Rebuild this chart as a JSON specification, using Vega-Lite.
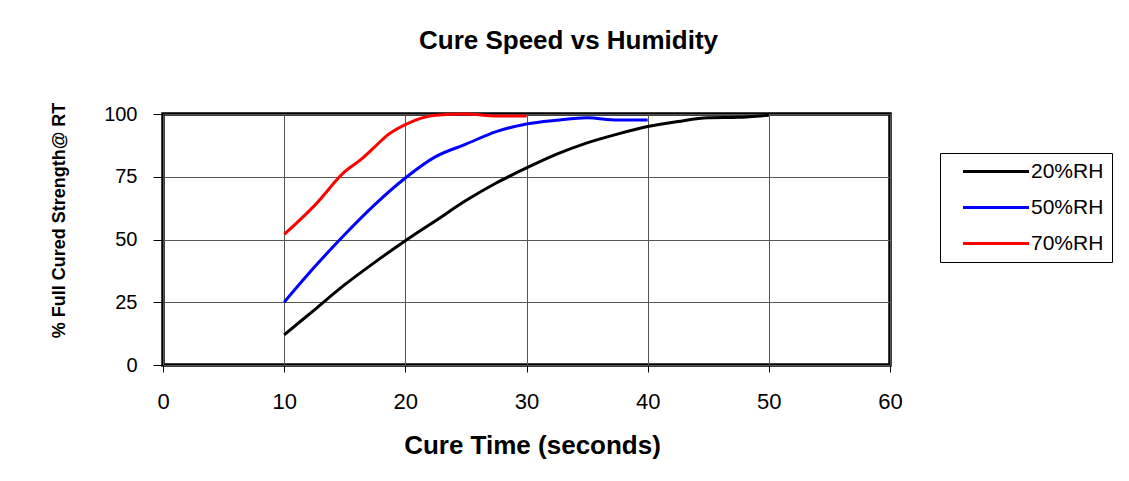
{
  "$schema": "https://vega.github.io/schema/vega-lite/v6.json",
  "width": 727,
  "height": 251,
  "autosize": {"type": "none"},
  "padding": {"left": 163, "top": 114, "right": 239, "bottom": 116},
  "background": "white",
  "title": {
    "text": "Cure Speed vs Humidity",
    "fontSize": 26,
    "fontWeight": "bold",
    "font": "Liberation Sans",
    "color": "black",
    "anchor": "middle",
    "offset": 48,
    "dx": 42
  },
  "data": {
    "values": [
      {"t": 10, "v": 12, "s": "20%RH"},
      {"t": 12.5, "v": 22, "s": "20%RH"},
      {"t": 15, "v": 32, "s": "20%RH"},
      {"t": 17.5, "v": 41, "s": "20%RH"},
      {"t": 20, "v": 49.5, "s": "20%RH"},
      {"t": 22.5, "v": 57.5, "s": "20%RH"},
      {"t": 25, "v": 65.5, "s": "20%RH"},
      {"t": 27.5, "v": 72.5, "s": "20%RH"},
      {"t": 30, "v": 78.5, "s": "20%RH"},
      {"t": 32.5, "v": 84, "s": "20%RH"},
      {"t": 35, "v": 88.5, "s": "20%RH"},
      {"t": 37.5, "v": 92, "s": "20%RH"},
      {"t": 40, "v": 95, "s": "20%RH"},
      {"t": 42.5, "v": 97, "s": "20%RH"},
      {"t": 45, "v": 98.5, "s": "20%RH"},
      {"t": 47.5, "v": 98.7, "s": "20%RH"},
      {"t": 50, "v": 99.5, "s": "20%RH"},
      {"t": 10, "v": 25, "s": "50%RH"},
      {"t": 12.5, "v": 39, "s": "50%RH"},
      {"t": 15, "v": 52, "s": "50%RH"},
      {"t": 17.5, "v": 64, "s": "50%RH"},
      {"t": 20, "v": 74.5, "s": "50%RH"},
      {"t": 22.5, "v": 83, "s": "50%RH"},
      {"t": 25, "v": 88, "s": "50%RH"},
      {"t": 27.5, "v": 93, "s": "50%RH"},
      {"t": 30, "v": 96, "s": "50%RH"},
      {"t": 32.5, "v": 97.5, "s": "50%RH"},
      {"t": 35, "v": 98.5, "s": "50%RH"},
      {"t": 37.5, "v": 97.6, "s": "50%RH"},
      {"t": 40, "v": 97.6, "s": "50%RH"},
      {"t": 10, "v": 52, "s": "70%RH"},
      {"t": 12.5, "v": 63.5, "s": "70%RH"},
      {"t": 15, "v": 77, "s": "70%RH"},
      {"t": 16.5, "v": 82.5, "s": "70%RH"},
      {"t": 17.5, "v": 87, "s": "70%RH"},
      {"t": 18.5, "v": 91.5, "s": "70%RH"},
      {"t": 20, "v": 95.8, "s": "70%RH"},
      {"t": 22.5, "v": 99.5, "s": "70%RH"},
      {"t": 25, "v": 100, "s": "70%RH"},
      {"t": 27.5, "v": 99.2, "s": "70%RH"},
      {"t": 30, "v": 99.2, "s": "70%RH"}
    ]
  },
  "mark": {"type": "line", "strokeWidth": 3, "interpolate": "monotone", "clip": false},
  "encoding": {
    "x": {
      "field": "t",
      "type": "quantitative",
      "scale": {"domain": [0, 60], "nice": false},
      "axis": {
        "title": "Cure Time (seconds)",
        "values": [0, 10, 20, 30, 40, 50, 60],
        "tickSize": 7,
        "labelPadding": 36,
        "labelBaseline": "alphabetic",
        "labelFlush": false,
        "labelFontSize": 22,
        "titleFontSize": 26,
        "titleX": 369,
        "titleY": 88,
        "titleBaseline": "alphabetic",
        "titleAlign": "center"
      }
    },
    "y": {
      "field": "v",
      "type": "quantitative",
      "scale": {"domain": [0, 100], "nice": false},
      "axis": {
        "title": "% Full Cured Strength@ RT",
        "values": [0, 25, 50, 75, 100],
        "tickSize": 10,
        "labelPadding": 16,
        "labelFlush": false,
        "labelFontSize": 20,
        "titleFontSize": 18,
        "titleX": -99,
        "titleY": 106,
        "titleAngle": 270,
        "titleBaseline": "alphabetic",
        "titleAlign": "center"
      }
    },
    "color": {
      "field": "s",
      "type": "nominal",
      "scale": {"domain": ["20%RH", "50%RH", "70%RH"], "range": ["#000000", "#0000FF", "#FF0000"]},
      "legend": {
        "title": null,
        "orient": "none",
        "legendX": 777,
        "legendY": 39,
        "strokeColor": "black",
        "fillColor": "white",
        "padding": 8,
        "symbolType": "M0.82,0H12.82",
        "symbolSize": 121,
        "symbolStrokeWidth": 3,
        "labelFontSize": 21,
        "labelOffset": 62,
        "rowPadding": 14
      }
    }
  },
  "config": {
    "font": "Liberation Sans",
    "view": {"stroke": "black", "strokeWidth": 3.5},
    "axis": {
      "domain": false,
      "grid": true,
      "gridColor": "#555555",
      "gridWidth": 1,
      "gridOpacity": 1,
      "tickColor": "black",
      "tickWidth": 1,
      "labelColor": "black",
      "labelFont": "Liberation Sans",
      "titleColor": "black",
      "titleFont": "Liberation Sans",
      "titleFontWeight": "bold"
    },
    "legend": {
      "labelColor": "black",
      "labelFont": "Liberation Sans"
    }
  }
}
